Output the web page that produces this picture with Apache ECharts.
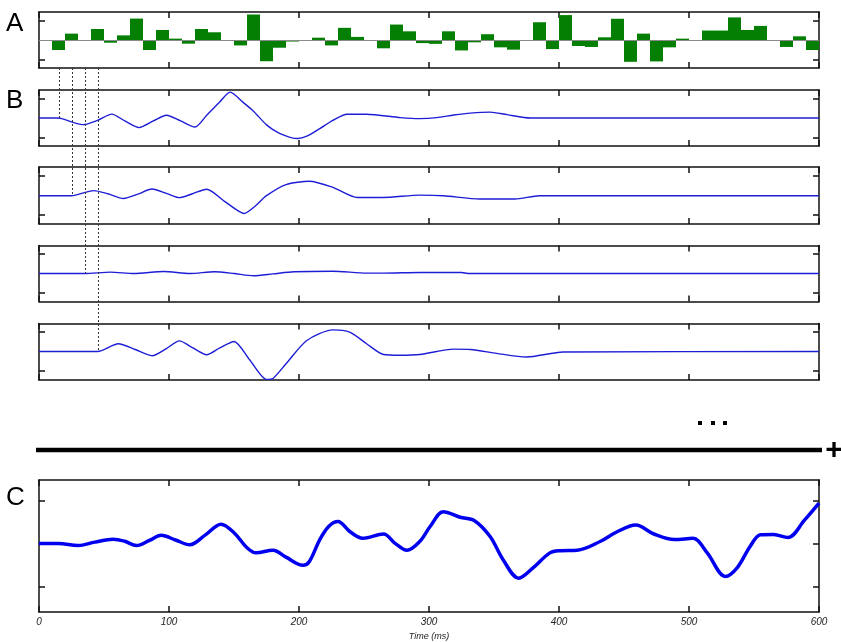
<!DOCTYPE html>
<html><head><meta charset="utf-8">
<script src="https://cdn.jsdelivr.net/npm/echarts@6/dist/echarts.min.js"></script>
<style>html,body{margin:0;padding:0;background:#fff}#c{width:841px;height:642px}</style>
</head><body><div id="c"></div>
<script>
// ---- DATA ----
// Panel A: 60 bins of 10 ms each
const aValues = [
  0, -0.52, 0.33, 0, 0.57, -0.14, 0.24, 1.11, -0.52, 0.52,
  0.07, -0.19, 0.57, 0.4, -0.05, -0.28, 1.32, -1.1, -0.4, -0.08,
  -0.05, 0.12, -0.28, 0.63, 0.16, 0, -0.43, 0.8, 0.45, -0.16,
  -0.2, 0.45, -0.54, -0.12, 0.3, -0.38, -0.5, 0, 0.92, -0.47,
  1.29, -0.31, -0.36, 0.14, 1.1, -1.13, 0.33, -1.11, -0.38, 0.07,
  0, 0.49, 0.49, 1.17, 0.52, 0.73, -0.03, -0.36, 0.19, -0.52
];
const binStarts = aValues.map((v, i) => String(i * 10));

const b1Times  = [0, 15, 25, 34, 45, 56, 66, 77, 88, 98, 109, 120, 129, 139, 147, 157, 165, 175, 185, 199, 206, 216, 226, 237, 252, 278, 293, 306, 319, 332, 347, 360, 378, 600];
const b1Values = [0, 0, -0.2, -0.34, -0.12, 0.2, -0.15, -0.49, -0.15, 0.14, -0.15, -0.46, 0.14, 0.82, 1.32, 0.8, 0.35, -0.35, -0.78, -1.05, -0.93, -0.54, -0.12, 0.19, 0.19, 0.02, -0.03, 0.02, 0.15, 0.25, 0.3, 0.17, 0, 0];

const b2Times  = [0, 25, 33, 42, 53, 65, 76, 87, 98, 108, 118, 129, 143, 158, 166, 175, 190, 208, 226, 245, 265, 293, 311, 339, 366, 385, 600];
const b2Values = [0, 0, 0.12, 0.26, 0.1, -0.14, 0.08, 0.34, 0.12, -0.1, 0.1, 0.33, -0.3, -0.91, -0.55, 0, 0.57, 0.74, 0.43, -0.09, -0.09, 0.03, 0, -0.17, -0.17, 0, 0];

const b3Times  = [0, 35, 55, 73, 96, 116, 135, 150, 165, 180, 196, 226, 252, 265, 293, 325, 330, 600];
const b3Values = [0, 0, 0.07, 0, 0.1, 0, 0.09, 0, -0.12, -0.02, 0.09, 0.12, 0.02, 0.02, 0.05, 0.05, 0, 0];

const b4Times  = [0, 45, 61, 74, 87, 98, 108, 118, 129, 139, 150, 162, 175, 180, 190, 206, 226, 239, 252, 265, 278, 293, 319, 332, 352, 375, 403, 600];
const b4Values = [0, 0, 0.4, 0.1, -0.22, 0.15, 0.55, 0.2, -0.17, 0.18, 0.52, -0.43, -1.45, -1.4, -0.64, 0.57, 1.12, 1.0, 0.4, -0.16, -0.2, -0.16, 0.12, 0.1, -0.1, -0.29, -0.03, 0];

const cTimes  = [0, 15, 30, 43, 57, 66, 75, 85, 94, 105, 116, 128, 140, 150, 160, 167, 180, 190, 203, 208, 216, 223, 230, 239, 249, 265, 274, 283, 293, 301, 311, 324, 335, 347, 357, 369, 380, 393, 401, 414, 432, 444, 459, 473, 489, 503, 514, 528, 537, 547, 555, 565, 576, 589, 600];
const cValues = [0, 0, -0.05, 0.03, 0.1, 0.05, -0.05, 0.07, 0.19, 0.08, -0.03, 0.2, 0.45, 0.25, -0.1, -0.22, -0.16, -0.32, -0.51, -0.42, 0.09, 0.4, 0.51, 0.28, 0.12, 0.22, 0, -0.16, 0.05, 0.4, 0.74, 0.61, 0.53, 0.16, -0.38, -0.81, -0.57, -0.22, -0.17, -0.16, 0.05, 0.26, 0.43, 0.22, 0.09, 0.12, -0.22, -0.77, -0.57, -0.07, 0.2, 0.21, 0.14, 0.55, 0.94];

const timeTicks = [0, 100, 200, 300, 400, 500, 600];
const dashTimes = [15, 25, 35, 45];

// ---- CHART ----
const chart = echarts.init(document.getElementById('c'));
const panels = [
  {top: 12,    height: 56,    min: -1.45, max: 1.45, ticks: [-1, 1]},
  {top: 90,    height: 56,    min: -1.43, max: 1.43, ticks: [-1, 1]},
  {top: 167,   height: 57,    min: -1.45, max: 1.47, ticks: [-1, 1]},
  {top: 245.5, height: 56,    min: -1.45, max: 1.45, ticks: [-1, 1]},
  {top: 323.5, height: 56.5,  min: -1.48, max: 1.45, ticks: [-1, 1]},
  {top: 480,   height: 132.7, min: -1.6,  max: 1.48, ticks: [-1, 0, 1]}
];
const lineCol = '#111';
const grids = [], xAxes = [], yAxes = [];
panels.forEach((p, i) => {
  grids.push({left: 39, right: 22, top: p.top, height: p.height});
  const isLast = i === panels.length - 1;
  ['bottom', 'top'].forEach(pos => {
    const base = {
      gridIndex: i, position: pos,
      axisLine: {show: true, onZero: false, lineStyle: {color: lineCol, width: 1.5}},
      axisTick: {show: true, inside: true, length: 6, lineStyle: {color: lineCol, width: 1.5}},
      axisLabel: {show: false},
      splitLine: {show: false}
    };
    if (i === 0) {
      Object.assign(base, {type: 'category', data: binStarts, boundaryGap: true});
      base.axisTick.interval = 9;
    } else {
      Object.assign(base, {type: 'value', min: 0, max: 600, interval: 100});
      base.axisTick.customValues = timeTicks;
    }
    if (isLast && pos === 'bottom') {
      base.axisLabel = {show: true, fontStyle: 'italic', fontSize: 10, color: '#222', margin: 5,
        customValues: timeTicks, fontFamily: 'Liberation Sans, Arial, sans-serif'};
      base.name = 'Time (ms)';
      base.nameLocation = 'middle';
      base.nameGap = 20;
      base.nameTextStyle = {fontStyle: 'italic', fontSize: 9, color: '#222', fontFamily: 'Liberation Sans, Arial, sans-serif'};
    }
    xAxes.push(base);
  });
  ['left', 'right'].forEach(pos => {
    yAxes.push({
      gridIndex: i, position: pos, type: 'value', min: p.min, max: p.max,
      axisLine: {show: true, onZero: false, lineStyle: {color: lineCol, width: 1.5}},
      axisTick: {show: true, inside: true, length: 6, customValues: p.ticks, lineStyle: {color: lineCol, width: 1.5}},
      axisLabel: {show: false},
      splitLine: {show: false}
    });
  });
});

function pairs(t, v) { return t.map((x, i) => [x, v[i]]); }
const bSets = [[b1Times, b1Values], [b2Times, b2Values], [b3Times, b3Values], [b4Times, b4Values]];

const series = [
  {type: 'line', xAxisIndex: 0, yAxisIndex: 0, data: [], z: 1, silent: true,
   markLine: {silent: true, symbol: 'none', label: {show: false}, animation: false,
     lineStyle: {color: '#8a8a8a', width: 1, type: 'solid'}, data: [{yAxis: 0}]}},
  {type: 'bar', xAxisIndex: 0, yAxisIndex: 0, data: aValues, barCategoryGap: '0%', z: 2,
   itemStyle: {color: '#047f04'}}
];
bSets.forEach((s, k) => {
  series.push({type: 'line', xAxisIndex: 2 * (k + 1), yAxisIndex: 2 * (k + 1), data: pairs(s[0], s[1]),
    showSymbol: false, smooth: 0.25, lineStyle: {color: '#1d1dd6', width: 1.4}});
});
series.push({type: 'line', xAxisIndex: 10, yAxisIndex: 10, data: pairs(cTimes, cValues),
  showSymbol: false, smooth: 0.35, lineStyle: {color: '#0000ee', width: 3.5}});

chart.setOption({
  animation: false,
  backgroundColor: '#fff',
  grid: grids, xAxis: xAxes, yAxis: yAxes, series: series
});

// Annotations computed from axes
const graphics = [];
const yABottom = chart.convertToPixel({yAxisIndex: 0}, panels[0].min);
dashTimes.forEach((t, k) => {
  const x = Math.round(chart.convertToPixel({xAxisIndex: 2}, t)) + 0.5;
  const y1 = chart.convertToPixel({yAxisIndex: 2 * (k + 1)}, 0);
  graphics.push({type: 'line', z: 100, shape: {x1: x, y1: yABottom, x2: x, y2: y1},
    style: {stroke: '#333', lineWidth: 1, lineDash: [2, 2]}});
});
const x0 = chart.convertToPixel({xAxisIndex: 10}, 0);
const x600 = chart.convertToPixel({xAxisIndex: 10}, 600);
graphics.push({type: 'line', shape: {x1: x0 - 3, y1: 450, x2: x600 + 3, y2: 450},
  style: {stroke: '#000', lineWidth: 4.5}});
graphics.push({type: 'text', x: 834, y: 451, style: {text: '+', fontSize: 30, fontWeight: 'bold',
  fill: '#000', align: 'center', verticalAlign: 'middle', fontFamily: 'Liberation Sans, Arial, sans-serif'}});
[698, 711, 723].forEach(x => graphics.push({type: 'rect', shape: {x: x, y: 421, width: 4, height: 4}, style: {fill: '#000'}}));
[['A', 24], ['B', 101], ['C', 498]].forEach(([t, y]) => graphics.push({type: 'text', x: 6, y: y,
  style: {text: t, fontSize: 26, fill: '#000', align: 'left', verticalAlign: 'middle',
    fontFamily: 'Liberation Sans, Arial, sans-serif'}}));
chart.setOption({graphic: graphics});
</script>
</body></html>
